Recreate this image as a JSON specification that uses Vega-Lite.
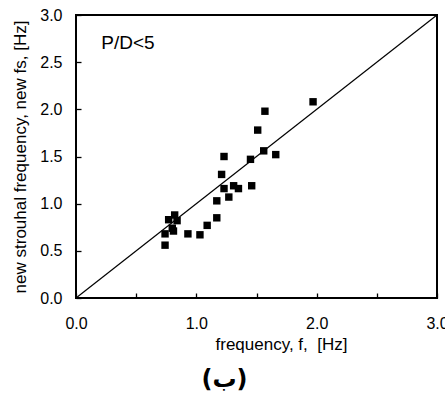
{
  "$schema": "https://vega.github.io/schema/vega-lite/v6.json",
  "autosize": "none",
  "width": 361,
  "height": 283,
  "padding": {"left": 76, "top": 15, "right": 8, "bottom": 96},
  "config": {
    "font": "Liberation Sans",
    "view": {"stroke": "black", "strokeWidth": 2},
    "axis": {
      "domain": false,
      "grid": false,
      "zindex": 1,
      "labelColor": "black",
      "labelFontSize": 16,
      "labelFlush": false,
      "titleColor": "black",
      "titleFontSize": 17,
      "titleFontWeight": "normal"
    }
  },
  "title": {
    "text": "(ب)",
    "orient": "bottom",
    "fontSize": 24,
    "fontWeight": "bold",
    "font": "DejaVu Sans",
    "color": "black",
    "offset": 16,
    "dx": -32
  },
  "datasets": {
    "points": [
      {"f": 0.74, "fs": 0.56},
      {"f": 0.74, "fs": 0.68},
      {"f": 0.77, "fs": 0.83},
      {"f": 0.82, "fs": 0.88},
      {"f": 0.84, "fs": 0.82},
      {"f": 0.80, "fs": 0.74},
      {"f": 0.81, "fs": 0.71},
      {"f": 0.93, "fs": 0.68},
      {"f": 1.03, "fs": 0.67},
      {"f": 1.09, "fs": 0.77},
      {"f": 1.17, "fs": 0.85},
      {"f": 1.17, "fs": 1.03},
      {"f": 1.21, "fs": 1.31},
      {"f": 1.23, "fs": 1.50},
      {"f": 1.23, "fs": 1.16},
      {"f": 1.27, "fs": 1.07},
      {"f": 1.31, "fs": 1.19},
      {"f": 1.35, "fs": 1.16},
      {"f": 1.45, "fs": 1.47},
      {"f": 1.46, "fs": 1.19},
      {"f": 1.51, "fs": 1.78},
      {"f": 1.56, "fs": 1.56},
      {"f": 1.57, "fs": 1.98},
      {"f": 1.66, "fs": 1.52},
      {"f": 1.97, "fs": 2.08}
    ],
    "diagonal": [
      {"f": 0, "fs": 0},
      {"f": 3, "fs": 3}
    ],
    "note": [
      {"f": 0.21, "fs": 2.70, "label": "P/D<5"}
    ]
  },
  "layer": [
    {
      "data": {"name": "diagonal"},
      "mark": {"type": "line", "color": "black", "strokeWidth": 1.2},
      "encoding": {
        "x": {
          "field": "f",
          "type": "quantitative",
          "scale": {"domain": [0, 3], "nice": false},
          "axis": {
            "title": "frequency, f, \u00a0[Hz]",
            "values": [0, 0.25, 0.5, 0.75, 1, 1.25, 1.5, 1.75, 2, 2.25, 2.5, 2.75, 3],
            "labelExpr": "datum.value % 1 == 0 ? format(datum.value, '.1f') : ''",
            "ticks": true,
            "tickColor": "black",
            "tickWidth": 1.3,
            "tickSize": 5,
            "offset": -5,
            "labelPadding": 17,
            "titlePadding": 5,
            "titleX": 205,
            "titleAnchor": "start",
            "titleAlign": "center"
          }
        },
        "y": {
          "field": "fs",
          "type": "quantitative",
          "scale": {"domain": [0, 3], "nice": false},
          "axis": {
            "title": "new strouhal frequency, new fs, [Hz]",
            "values": [0, 0.25, 0.5, 0.75, 1, 1.25, 1.5, 1.75, 2, 2.25, 2.5, 2.75, 3],
            "labelExpr": "datum.value % 0.5 == 0 ? format(datum.value, '.1f') : ''",
            "ticks": true,
            "tickColor": "black",
            "tickWidth": 1.3,
            "tickSize": 5,
            "offset": -5,
            "labelPadding": 14,
            "titlePadding": 10
          }
        }
      }
    },
    {
      "data": {"name": "points"},
      "mark": {"type": "square", "color": "black", "filled": true, "opacity": 1, "size": 55},
      "encoding": {
        "x": {"field": "f", "type": "quantitative"},
        "y": {"field": "fs", "type": "quantitative"}
      }
    },
    {
      "data": {"name": "note"},
      "mark": {"type": "text", "align": "left", "baseline": "middle", "fontSize": 19, "color": "black"},
      "encoding": {
        "x": {"field": "f", "type": "quantitative"},
        "y": {"field": "fs", "type": "quantitative"},
        "text": {"field": "label"}
      }
    }
  ]
}
